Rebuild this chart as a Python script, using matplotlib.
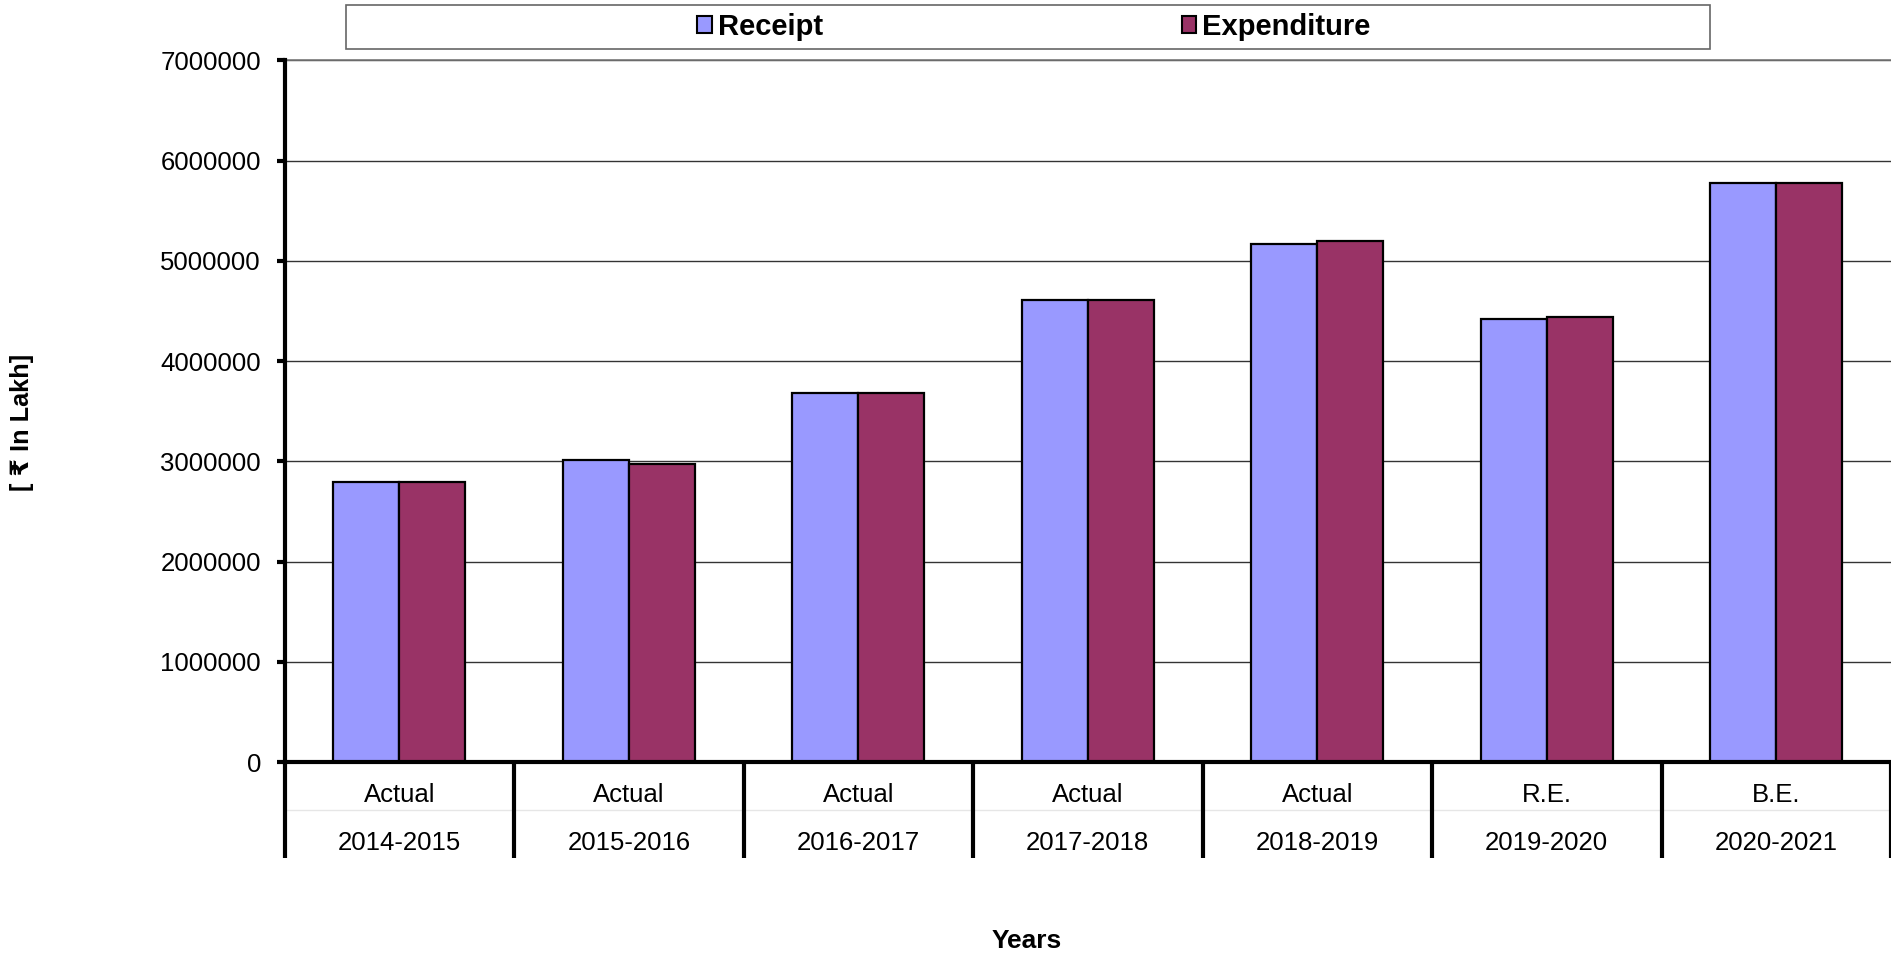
import numpy as np
import matplotlib
matplotlib.use("Agg")
import matplotlib.pyplot as plt
from matplotlib.patches import Rectangle, Patch
from matplotlib.ticker import FuncFormatter

plt.rcParams['font.family'] = ['Liberation Sans', 'DejaVu Sans']

# data (Rs in lakh)
stages = ['Actual', 'Actual', 'Actual', 'Actual', 'Actual', 'R.E.', 'B.E.']
years = ['2014-2015', '2015-2016', '2016-2017', '2017-2018', '2018-2019',
         '2019-2020', '2020-2021']
receipt = [2798000, 3013000, 3683000, 4613000, 5170000, 4420000, 5773000]
expenditure = [2795000, 2973000, 3680000, 4607000, 5200000, 4443000, 5773000]

c_rec = '#9999FF'
c_exp = '#993366'

W, H = 1891, 955
fig = plt.figure(figsize=(W / 100, H / 100), dpi=100)
ax = fig.add_axes([284.6 / W, 1 - 762 / H, 1 - 284.6 / W, (762 - 60.5) / H])

x = np.arange(len(years))
bw = 0.288
ax.bar(x - bw / 2, receipt, bw, color=c_rec, edgecolor='black', linewidth=1.6, zorder=3)
ax.bar(x + bw / 2, expenditure, bw, color=c_exp, edgecolor='black', linewidth=1.6, zorder=3)

ax.set_xlim(-0.5, len(years) - 0.5)
ax.set_ylim(0, 7000000)
ax.set_yticks(np.arange(0, 7000001, 1000000))
ax.yaxis.set_major_formatter(FuncFormatter(lambda v, p: '%d' % v))
ax.tick_params(axis='y', length=6, width=3, pad=11, labelsize=18.5, direction='out')
ax.set_xticks([])
ax.grid(axis='y', color='#333333', linewidth=1, zorder=0)

for s in ['left', 'bottom']:
    ax.spines[s].set_linewidth(3)
    ax.spines[s].set_color('black')
    ax.spines[s].set_zorder(5)
ax.spines['right'].set_visible(False)
ax.spines['top'].set_color('#777777')
ax.spines['top'].set_linewidth(1.2)

# two-level category labels
tr = ax.get_xaxis_transform()
for i in range(len(years)):
    ax.text(x[i], -0.047, stages[i], transform=tr, ha='center', va='center', fontsize=18.5)
    ax.text(x[i], -0.1155, years[i], transform=tr, ha='center', va='center', fontsize=18.5)
ax.hlines(-0.068, -0.5, len(years) - 0.5, transform=tr, color='#e6e6e6', linewidth=1, clip_on=False)
ax.vlines(np.arange(len(years) + 1) - 0.5, -0.137, 0, transform=tr, color='black',
          linewidth=3, clip_on=False)

fig.text(22 / W, 1 - 422 / H, '[ \u20b9 In Lakh]', rotation=90, ha='center', va='center',
         fontsize=18.2, fontweight='bold')
fig.text(1027 / W, 1 - 941 / H, 'Years', ha='center', va='center', fontsize=19, fontweight='bold')

# legend box
fig.patches.append(Rectangle((346 / W, 1 - 49 / H), (1710 - 346) / W, 44 / H,
                             transform=fig.transFigure, facecolor='white',
                             edgecolor='#666666', linewidth=1.2))
handles = [Patch(facecolor=c_rec, edgecolor='black', linewidth=1.5),
           Patch(facecolor=c_exp, edgecolor='black', linewidth=1.5)]
fig.legend(handles, ['Receipt', 'Expenditure'], loc='center', ncol=2,
           bbox_to_anchor=(1034 / W, 1 - 27 / H), frameon=False,
           prop={'size': 21, 'weight': 'bold'}, handlelength=0.5, handleheight=0.5,
           handletextpad=0.2, columnspacing=12.3, borderpad=0)

fig.savefig('out.png', dpi=100)
